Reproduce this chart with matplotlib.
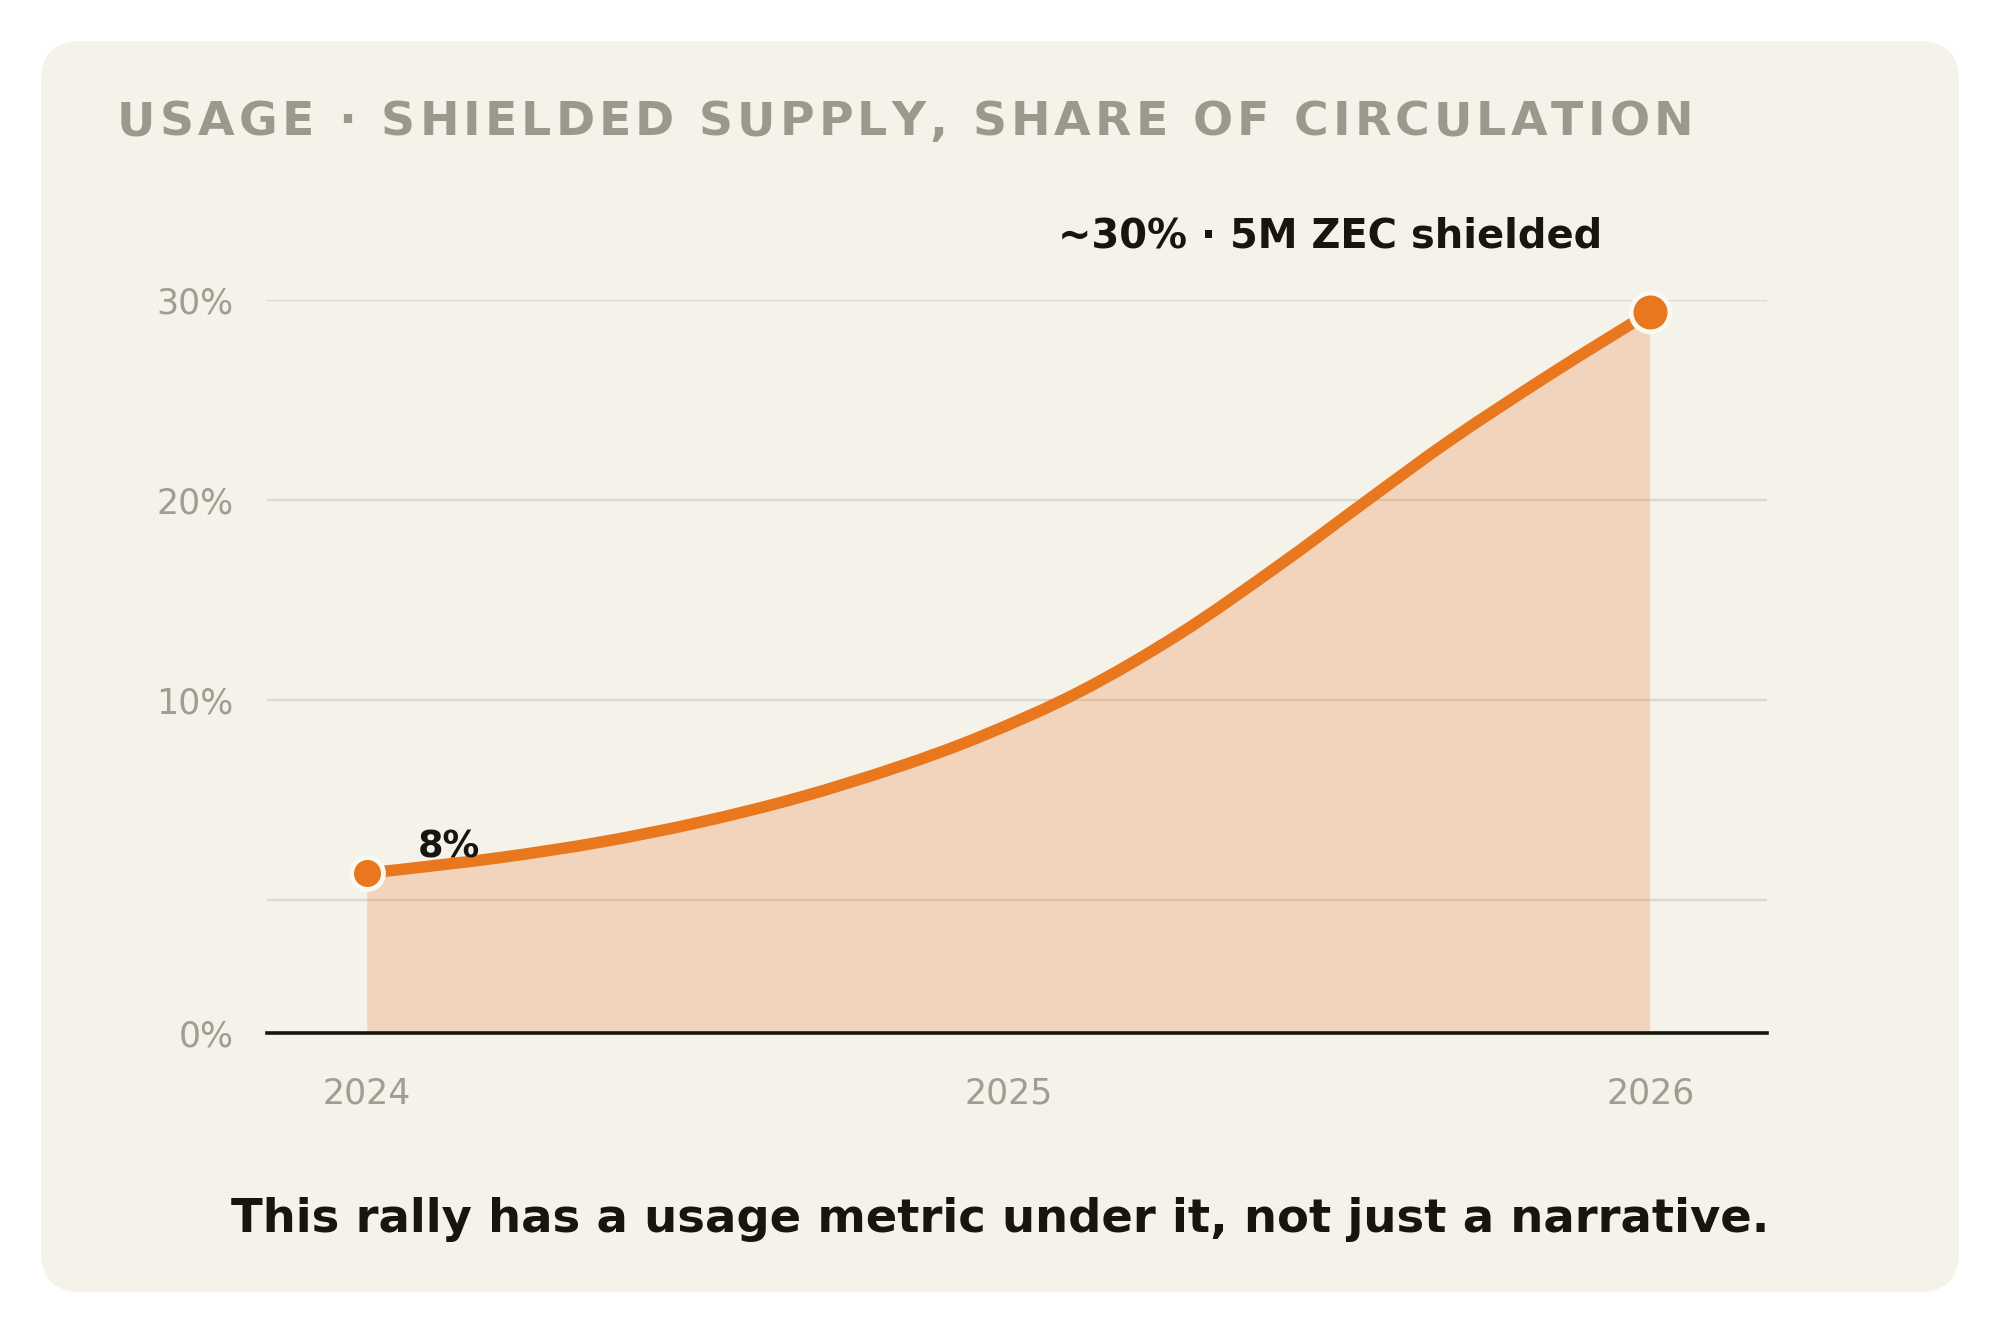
import numpy as np
import matplotlib
matplotlib.use("Agg")
import matplotlib.pyplot as plt
from matplotlib.patches import FancyBboxPatch, PathPatch
from matplotlib.path import Path
from matplotlib.transforms import IdentityTransform
from matplotlib import font_manager
from matplotlib.ft2font import FT2Font

# Data (decimal years, value on the chart's y scale)
years = [2024.0, 2024.051, 2024.207, 2024.363, 2024.519, 2024.675, 2024.831, 2024.956,
         2025.111, 2025.267, 2025.423, 2025.564, 2025.688, 2025.844, 2026.0]
share = [1.35, 1.52, 2.12, 2.89, 3.89, 5.14, 6.69, 8.17,
         10.42, 13.32, 16.77, 20.1, 22.98, 26.28, 29.4]

x_ticks = [2024, 2025, 2026]
x_labels = ["2024", "2025", "2026"]
y_base = -6.65
y_ticks = [y_base, 10, 20, 30]
y_labels = ["0%", "10%", "20%", "30%"]
grid_vals = [0, 10, 20, 30]

title = "USAGE \u00b7 SHIELDED SUPPLY, SHARE OF CIRCULATION"
start_label = "8%"
end_label = "~30% \u00b7 5M ZEC shielded"
footer = "This rally has a usage metric under it, not just a narrative."

# Colours
panel_bg = "#F5F2EA"
orange = "#E8771E"
fill_c = "#EE9154"
grid_c = "#DBD8CF"
muted = "#A09E92"
title_c = "#9B998C"
ink = "#16150F"


def smooth_path(xs, ys):
    # cubic Hermite segments through the points, drawn as Bezier curves
    xs = np.asarray(xs, float)
    ys = np.asarray(ys, float)
    n = len(xs)
    m = np.empty(n)
    m[0] = (ys[1] - ys[0]) / (xs[1] - xs[0])
    m[-1] = (ys[-1] - ys[-2]) / (xs[-1] - xs[-2])
    m[1:-1] = (ys[2:] - ys[:-2]) / (xs[2:] - xs[:-2])
    verts = [(xs[0], ys[0])]
    codes = [Path.MOVETO]
    for i in range(n - 1):
        h = xs[i + 1] - xs[i]
        verts += [(xs[i] + h / 3, ys[i] + m[i] * h / 3),
                  (xs[i + 1] - h / 3, ys[i + 1] - m[i + 1] * h / 3),
                  (xs[i + 1], ys[i + 1])]
        codes += [Path.CURVE4] * 3
    return verts, codes


DPI = 100
W, H = 2000, 1334
fig = plt.figure(figsize=(W / DPI, H / DPI), dpi=DPI, facecolor="white")

# rounded cream panel, in pixels
panel = FancyBboxPatch((41, 42), 1918, 1251, boxstyle="round,pad=0,rounding_size=40",
                       transform=IdentityTransform(), facecolor=panel_bg,
                       edgecolor="none", zorder=-5)
fig.patches.append(panel)

ax = fig.add_axes([267 / W, 1 - 1033 / H, 1500 / W, (1033 - 300) / H])
ax.set_facecolor("none")
ax.set_zorder(1)
ax.set_xlim(2023.844, 2026.182)
ax.set_ylim(y_base, 30)

for v in grid_vals:
    ax.axhline(v, color=grid_c, lw=1.7, zorder=1)

verts, codes = smooth_path(years, share)
area = Path(verts + [(years[-1], y_base), (years[0], y_base), verts[0]],
            codes + [Path.LINETO, Path.LINETO, Path.CLOSEPOLY])
ax.add_patch(PathPatch(area, facecolor=fill_c, alpha=0.3, lw=0, zorder=2))
ax.add_patch(PathPatch(Path(verts, codes), facecolor="none", edgecolor=orange, lw=8.3,
                       capstyle="round", joinstyle="round", zorder=3))

ax.plot(years[0], share[0], "o", ms=23, color=orange, mec="#FBF9F4", mew=3.5,
        zorder=4, clip_on=False)
ax.plot(years[-1], share[-1], "o", ms=28, color=orange, mec="#FBF9F4", mew=3.5,
        zorder=4, clip_on=False)

ax.annotate(start_label, (years[0], share[0]), xytext=(51, 26), textcoords="offset pixels",
            ha="left", va="center", fontsize=26.5, fontweight="bold", color=ink, zorder=5)
ax.annotate(end_label, (years[-1], share[-1]), xytext=(-48, 76), textcoords="offset pixels",
            ha="right", va="center", fontsize=28.8, fontweight="bold", color=ink, zorder=5)

for s in ["top", "right", "left"]:
    ax.spines[s].set_visible(False)
ax.spines["bottom"].set_color(ink)
ax.spines["bottom"].set_linewidth(2.6)
ax.spines["bottom"].set_zorder(6)

ax.set_xticks(x_ticks, x_labels)
ax.set_yticks(y_ticks, y_labels)
ax.tick_params(axis="both", length=0, labelsize=25, labelcolor=muted)
ax.tick_params(axis="y", pad=24)
ax.tick_params(axis="x", pad=31)

# letter-spaced title, one glyph at a time
t_size = 34
t_path = font_manager.findfont(font_manager.FontProperties(family="DejaVu Sans", weight="bold"))
ft = FT2Font(t_path)
ft.set_size(t_size, DPI)
advances = [ft.load_char(ord(c)).linearHoriAdvance / 65536 for c in title]
x0, x1 = 117, 1693
spacing = (x1 - x0 - sum(advances)) / (len(title) - 1)
x = x0
for c, a in zip(title, advances):
    fig.text(x / W, 1 - 135 / H, c, fontsize=t_size, fontweight="bold", color=title_c,
             ha="left", va="baseline")
    x += a + spacing

fig.text(0.5, 1 - 1220 / H, footer, ha="center", va="center", fontsize=33.5,
         fontweight="bold", color=ink)

fig.savefig("out.png", dpi=DPI, facecolor="white")
